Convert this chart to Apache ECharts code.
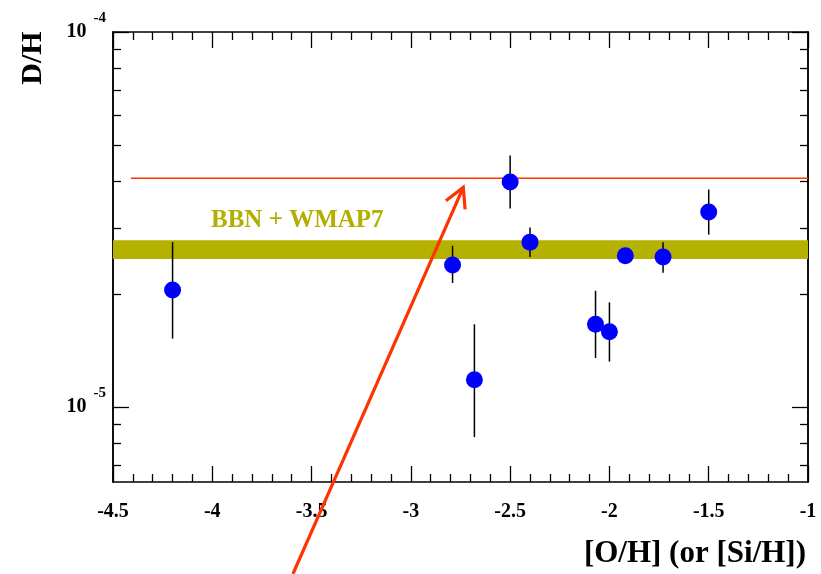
<!DOCTYPE html>
<html>
<head>
<meta charset="utf-8">
<script src="https://cdn.jsdelivr.net/npm/echarts@6/dist/echarts.min.js"></script>
<style>
  html, body { margin: 0; padding: 0; background: #fff; }
  #main { width: 821px; height: 574px; }
</style>
</head>
<body>
<div id="main"></div>
<script>
// [O/H] of each absorber and its D/H with error bar ends
var metallicity = [-4.2, -2.79, -2.68, -2.5, -2.4, -2.07, -2.0, -1.92, -1.73, -1.5];
var dh     = [2.05e-5, 2.39e-5, 1.18e-5, 3.98e-5, 2.75e-5, 1.66e-5, 1.585e-5, 2.53e-5, 2.51e-5, 3.31e-5];
var dhHigh = [2.75e-5, 2.69e-5, 1.66e-5, 4.68e-5, 3.01e-5, 2.04e-5, 1.90e-5, 2.60e-5, 2.75e-5, 3.80e-5];
var dhLow  = [1.52e-5, 2.14e-5, 8.3e-6, 3.38e-5, 2.51e-5, 1.35e-5, 1.32e-5, 2.46e-5, 2.28e-5, 2.88e-5];

// BBN + WMAP7 band and the red reference level
var bbnBand = [2.48e-5, 2.78e-5];
var refLineX = [-4.41, -1];
var refLineY = 4.07e-5;

// annotation arrow, tail and tip in data units
var arrowTail = [-3.594, 3.58e-6];
var arrowTip = [-2.736, 3.85e-5];

// log axis ticks
var yMin = 6.3e-6, yMax = 1e-4;
var yMajor = [1e-5, 1e-4];
var yMinor = [7e-6, 8e-6, 9e-6, 2e-5, 3e-5, 4e-5, 5e-5, 6e-5, 7e-5, 8e-5, 9e-5];

var lg = function (v) { return Math.log10(v); };
var font = "'Liberation Serif', 'Times New Roman', serif";

var myChart = echarts.init(document.getElementById('main'));

function xAxisOf(pos, showLabel) {
    return {
        type: 'value', position: pos, min: -4.5, max: -1, interval: 0.5,
        axisLine: { show: true, onZero: false, lineStyle: { color: '#000', width: 1.5 } },
        axisTick: { inside: true, length: 16, lineStyle: { color: '#000', width: 1.3 } },
        minorTick: { show: true, splitNumber: 5, length: 8, lineStyle: { color: '#000', width: 1.3 } },
        splitLine: { show: false },
        axisLabel: {
            show: showLabel, margin: 20, color: '#000',
            fontFamily: font, fontWeight: 'bold', fontSize: 20
        }
    };
}

function yAxisOf(pos, values, len, showLabel) {
    return {
        type: 'value', position: pos, min: lg(yMin), max: lg(yMax),
        axisLine: { show: true, onZero: false, lineStyle: { color: '#000', width: 1.5 } },
        axisTick: { inside: true, length: len, customValues: values.map(lg), lineStyle: { color: '#000', width: 1.3 } },
        splitLine: { show: false },
        axisLabel: {
            show: showLabel, margin: 7, customValues: values.map(lg),
            formatter: function (v) { return '{b|10}{s|' + Math.round(v) + '}'; },
            rich: {
                b: { fontFamily: font, fontWeight: 'bold', fontSize: 20, color: '#000', verticalAlign: 'middle' },
                s: { fontFamily: font, fontWeight: 'bold', fontSize: 15, color: '#000', padding: [0, 0, 27, 7] }
            }
        }
    };
}

var option = {
    backgroundColor: '#fff',
    animation: false,
    grid: { left: 113, right: 13, top: 32, bottom: 92 },
    xAxis: [
        xAxisOf('bottom', true),
        xAxisOf('top', false)
    ],
    yAxis: [
        yAxisOf('left', yMajor, 16, true),
        yAxisOf('left', yMinor, 8, false),
        yAxisOf('right', yMajor, 16, false),
        yAxisOf('right', yMinor, 8, false)
    ],
    graphic: [
        {
            type: 'text', x: 33, y: 58, rotation: Math.PI / 2,
            style: { text: 'D/H', fontFamily: font, fontWeight: 'bold', fontSize: 30, fill: '#000', align: 'center', verticalAlign: 'middle' }
        },
        {
            type: 'text', x: 806, y: 554,
            style: { text: '[O/H] (or [Si/H])', fontFamily: font, fontWeight: 'bold', fontSize: 31, fill: '#000', align: 'right', verticalAlign: 'middle' }
        },
        {
            type: 'text', x: 211, y: 221,
            style: { text: 'BBN + WMAP7', fontFamily: font, fontWeight: 'bold', fontSize: 25, fill: '#b3ae00', align: 'left', verticalAlign: 'middle' }
        }
    ],
    series: [
        {
            name: 'level',
            type: 'line',
            symbol: 'none',
            z: 3,
            data: refLineX.map(function (x) { return [x, lg(refLineY)]; }),
            lineStyle: { color: '#ff3300', width: 1.6 },
            markArea: {
                silent: true,
                itemStyle: { color: '#b5b100', opacity: 1 },
                data: [[{ yAxis: lg(bbnBand[1]) }, { yAxis: lg(bbnBand[0]) }]]
            }
        },
        {
            name: 'errors',
            type: 'custom',
            z: 4,
            data: metallicity.map(function (x, i) { return [x, lg(dhLow[i]), lg(dhHigh[i])]; }),
            renderItem: function (params, api) {
                var a = api.coord([api.value(0), api.value(1)]);
                var b = api.coord([api.value(0), api.value(2)]);
                return {
                    type: 'line',
                    shape: { x1: a[0], y1: a[1], x2: b[0], y2: b[1] },
                    style: { stroke: '#000', lineWidth: 1.5 }
                };
            }
        },
        {
            name: 'D/H',
            type: 'scatter',
            z: 5,
            symbolSize: 17,
            itemStyle: { color: '#0000ff', opacity: 1 },
            data: metallicity.map(function (x, i) { return [x, lg(dh[i])]; })
        },
        {
            name: 'arrow',
            type: 'custom',
            z: 6,
            clip: false,
            data: [[arrowTail[0], lg(arrowTail[1]), arrowTip[0], lg(arrowTip[1])]],
            renderItem: function (params, api) {
                var t = api.coord([api.value(0), api.value(1)]);
                var h = api.coord([api.value(2), api.value(3)]);
                var ang = Math.atan2(t[1] - h[1], t[0] - h[0]);
                var w = 22, spread = 28.5 * Math.PI / 180;
                var p1 = [h[0] + w * Math.cos(ang + spread), h[1] + w * Math.sin(ang + spread)];
                var p2 = [h[0] + w * Math.cos(ang - spread), h[1] + w * Math.sin(ang - spread)];
                var st = { stroke: '#ff3300', lineWidth: 3.2, fill: null, lineJoin: 'miter' };
                return {
                    type: 'group',
                    children: [
                        { type: 'line', shape: { x1: t[0], y1: t[1], x2: h[0], y2: h[1] }, style: st },
                        { type: 'polyline', shape: { points: [p1, h, p2] }, style: st }
                    ]
                };
            }
        }
    ]
};
myChart.setOption(option);

window.addEventListener('resize', function () {
    myChart.resize();
});
</script>
</body>
</html>
